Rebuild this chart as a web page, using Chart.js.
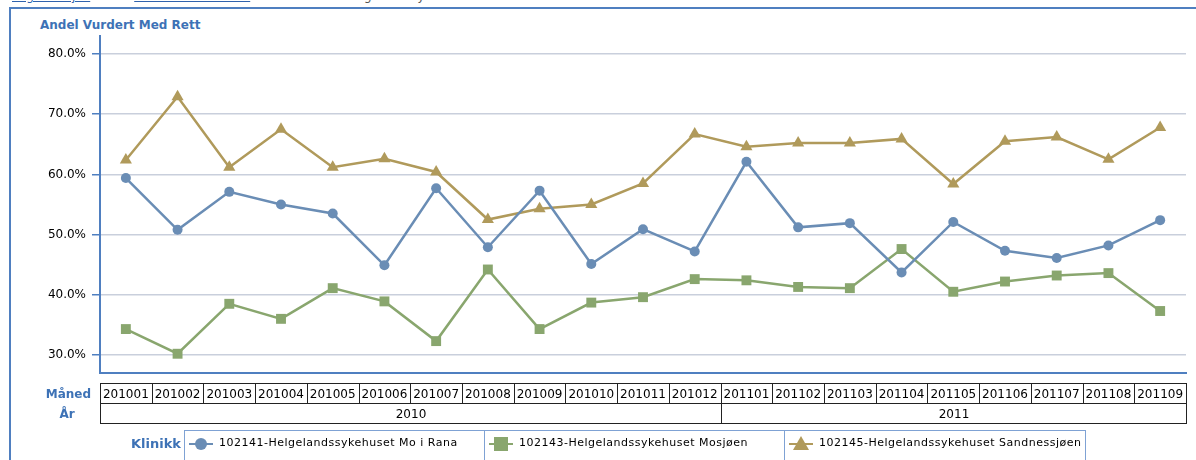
<!DOCTYPE html>
<html>
<head>
<meta charset="utf-8">
<script src="https://cdn.jsdelivr.net/npm/chart.js@4"></script>
<style>
  body { margin:0; background:#fff; width:1196px; height:460px; overflow:hidden; position:relative; font-family:"DejaVu Sans", sans-serif; }
  #crumbs { position:absolute; left:12px; top:-11px; font-size:12px; white-space:nowrap; }
  #crumbs a { color:#2f62ad; text-decoration:underline; margin-right:44px; }
  #crumbs span { color:#555; }
  #frame { position:absolute; left:9px; top:7px; width:1200px; height:470px; border-left:2px solid #4f7fc0; border-top:2px solid #4f7fc0; }
  #title { position:absolute; left:40px; top:18px; font-size:12px; font-weight:bold; color:#3d72b6; }
  #chart { position:absolute; left:0; top:0; }
  #legend { position:absolute; left:131px; top:430px; display:flex; align-items:flex-start; }
  #legend .cap { font-size:13px; font-weight:bold; color:#3d72b6; margin-top:6px; width:53px; }
  #legend .box { display:flex; border:1px solid #7fa2d4; height:40px; }
  #legend .item { display:flex; align-items:flex-start; width:299px; border-right:1px solid #7fa2d4; font-size:11px; letter-spacing:0.5px; color:#000; }
  #legend .item:last-child { border-right:none; width:300px; }
  #legend svg { margin:2px 5px 0 3px; }
  #legend .lbl { margin-top:5px; }
</style>
</head>
<body>
<div id="crumbs"><a>Organisasjon</a><a>100022-Helse Nord</a><span>100050-Helgelandssykehuset HF</span></div>
<div id="frame"></div>
<div id="title">Andel Vurdert Med Rett</div>
<canvas id="chart" width="1196" height="460"></canvas>
<div id="legend">
  <div class="cap">Klinikk</div>
  <div class="box">
    <div class="item"><svg width="26" height="22"><line x1="1" y1="11" x2="25" y2="11" stroke="#6a8db5" stroke-width="2"/><circle cx="13" cy="11" r="6" fill="#6a8db5"/></svg><span class="lbl">102141-Helgelandssykehuset Mo i Rana</span></div>
    <div class="item"><svg width="26" height="22"><line x1="1" y1="11" x2="25" y2="11" stroke="#89a66e" stroke-width="2"/><rect x="6" y="4" width="14" height="14" fill="#89a66e"/></svg><span class="lbl">102143-Helgelandssykehuset Mosjøen</span></div>
    <div class="item"><svg width="26" height="22"><line x1="1" y1="11" x2="25" y2="11" stroke="#b09a5b" stroke-width="2"/><polygon points="13,3 21,17 5,17" fill="#b09a5b"/></svg><span class="lbl">102145-Helgelandssykehuset Sandnessjøen</span></div>
  </div>
</div>
<script>
// categories (month codes)
const months = ['201001','201002','201003','201004','201005','201006','201007','201008','201009','201010','201011','201012',
                '201101','201102','201103','201104','201105','201106','201107','201108','201109'];

// series values (percent)
const moIRana = [59.4,50.8,57.1,55.0,53.5,44.9,57.7,47.9,57.3,45.1,50.9,47.2,62.1,51.2,51.9,43.7,52.1,47.3,46.1,48.2,52.4];
const mosjoen = [34.3,30.2,38.5,36.0,41.1,38.9,32.3,44.2,34.3,38.7,39.6,42.6,42.4,41.3,41.1,47.6,40.5,42.2,43.2,43.6,37.3];
const sandnessjoen = [62.4,72.9,61.2,67.5,61.2,62.6,60.4,52.5,54.3,55.0,58.5,66.7,64.6,65.2,65.2,65.9,58.4,65.5,66.2,62.5,67.8];

// y tick labels
const yTicks = [30,40,50,60,70,80];

const rowLabels = ['Måned','År'];

// draws the month / year table under the x axis
const tableAxis = {
  id: 'tableAxis',
  afterDraw(chart) {
    const ctx = chart.ctx;
    const x = chart.scales.x;
    const w = (x.right - x.left) / months.length;
    const top = Math.round(chart.chartArea.bottom) + 10.5;
    const rowH = 20;
    ctx.save();
    ctx.strokeStyle = '#222';
    ctx.lineWidth = 1;
    ctx.fillStyle = '#000';
    ctx.font = '12px "DejaVu Sans"';
    ctx.textAlign = 'center';
    ctx.textBaseline = 'middle';
    months.forEach((m, i) => {
      const cx = x.getPixelForValue(i);
      const l = Math.round(cx - w / 2) + 0.5;
      const r = Math.round(cx + w / 2) + 0.5;
      ctx.strokeRect(l, top, r - l, rowH);
      ctx.fillText(m, cx, top + rowH / 2 + 1);
    });
    // year groups
    const years = [...new Set(months.map(m => m.slice(0, 4)))];
    years.forEach(y => {
      const idx = months.map((m, i) => m.startsWith(y) ? i : -1).filter(i => i >= 0);
      const l = Math.round(x.getPixelForValue(idx[0]) - w / 2) + 0.5;
      const r = Math.round(x.getPixelForValue(idx[idx.length - 1]) + w / 2) + 0.5;
      ctx.strokeRect(l, top + rowH, r - l, rowH);
      ctx.fillText(y, (l + r) / 2, top + rowH * 1.5 + 1);
    });
    // row captions
    ctx.fillStyle = '#3d72b6';
    ctx.font = 'bold 12px "DejaVu Sans"';
    ctx.textAlign = 'right';
    ctx.fillText(rowLabels[0], 91, top + rowH / 2 + 1);
    ctx.textAlign = 'center';
    ctx.fillText(rowLabels[1], 67, top + rowH * 1.5 + 1);
    ctx.restore();
  }
};

const ctx = document.getElementById('chart').getContext('2d');
const chart = new Chart(ctx, {
  type: 'line',
  data: {
    labels: months,
    datasets: [
      { label: '102141-Helgelandssykehuset Mo i Rana', data: moIRana, borderColor: '#6a8db5', backgroundColor: '#6a8db5',
        pointStyle: 'circle', pointRadius: 5, borderWidth: 2.5, pointBorderWidth: 0 },
      { label: '102143-Helgelandssykehuset Mosjøen', data: mosjoen, borderColor: '#89a66e', backgroundColor: '#89a66e',
        pointStyle: 'rect', pointRadius: 7, borderWidth: 2.5, pointBorderWidth: 0 },
      { label: '102145-Helgelandssykehuset Sandnessjøen', data: sandnessjoen, borderColor: '#b09a5b', backgroundColor: '#b09a5b',
        pointStyle: 'triangle', pointRadius: 7, borderWidth: 2.5, pointBorderWidth: 0 }
    ]
  },
  options: {
    responsive: false,
    animation: false,
    layout: { padding: { top: 36, right: 10, left: 0, bottom: 0 } },
    plugins: { legend: { display: false }, tooltip: { enabled: false } },
    scales: {
      x: {
        offset: true,
        ticks: { display: false },
        grid: { display: false, drawTicks: false },
        border: { display: true, color: '#4f7fc0', width: 2 },
        afterFit: s => { s.height = 87; }
      },
      y: {
        min: 27, max: 83,
        ticks: {
          stepSize: 10, padding: 6, color: '#000',
          font: { family: 'DejaVu Sans', size: 12 },
          callback: v => v.toFixed(1) + '%'
        },
        afterBuildTicks: s => { s.ticks = yTicks.map(v => ({ value: v })); },
        grid: { color: '#c9cfdc', lineWidth: 1.5, tickColor: '#4f7fc0', tickLength: 8 },
        border: { display: true, color: '#4f7fc0', width: 2 },
        afterFit: s => { s.width = 100; }
      }
    }
  },
  plugins: [tableAxis]
});
</script>
</body>
</html>
